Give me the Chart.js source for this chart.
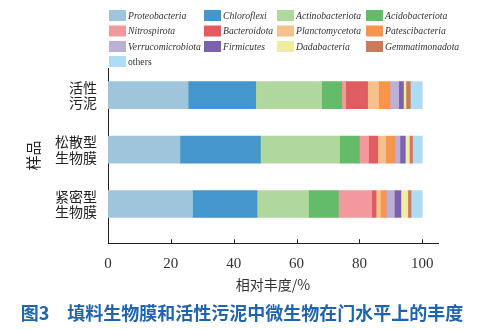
<!DOCTYPE html>
<html>
<head>
<meta charset="utf-8">
<script src="https://cdn.jsdelivr.net/npm/chart.js@4.4.0/dist/chart.umd.min.js"></script>
<style>
  html, body { margin: 0; padding: 0; background: #fff; }
</style>
</head>
<body>
<canvas id="abundanceChart" width="485" height="329"></canvas>
<script>
// samples (top to bottom)
const samples = [['活性', '污泥'], ['松散型', '生物膜'], ['紧密型', '生物膜']];

// phyla in stacking order
const phyla = ['Proteobacteria', 'Chloroflexi', 'Actinobacteriota', 'Acidobacteriota',
  'Nitrospirota', 'Bacteroidota', 'Planctomycetota', 'Patescibacteria',
  'Verrucomicrobiota', 'Firmicutes', 'Dadabacteria', 'Gemmatimonadota', 'others'];

const phylaColors = ['#9fc5dd', '#4596cc', '#b0d79c', '#64bb69', '#f4999b', '#e05c60',
  '#f8c08a', '#f7954f', '#bcb0d6', '#7c62ac', '#f1ed9f', '#cd7a5c', '#aedcf5'];

// relative abundance (%) per sample, same order as phyla
const activatedSludge = [25.5, 21.5, 21.0, 6.4, 1.2, 7.0, 3.5, 3.6, 2.8, 1.5, 0.8, 1.4, 3.8];
const looseBiofilm    = [22.9, 25.6, 25.2, 6.3, 2.9, 2.9, 2.5, 3.0, 1.6, 1.7, 1.3, 1.0, 3.1];
const denseBiofilm    = [26.9, 20.5, 16.4, 9.5, 10.6, 1.4, 1.4, 1.8, 2.6, 2.1, 2.2, 1.0, 3.6];

const xTicks = [0, 20, 40, 60, 80, 100];

const caption = '图3　填料生物膜和活性污泥中微生物在门水平上的丰度';

const sampleValues = [activatedSludge, looseBiofilm, denseBiofilm];

const datasets = phyla.map((name, i) => ({
  label: name,
  data: sampleValues.map((vals, s) => ({ x: vals[i], y: s })),
  backgroundColor: phylaColors[i],
  borderWidth: 0,
  barThickness: 27
}));

// legend laid out as a 4-column grid, plus the figure caption
const gridLegend = {
  id: 'gridLegend',
  afterDraw(chart) {
    const c = chart.ctx;
    const colX = [109, 204, 277, 366];
    const rowY = [15.5, 31, 46.5, 61.5];
    c.save();
    chart.data.datasets.forEach((ds, i) => {
      const x = colX[i % 4];
      const y = rowY[Math.floor(i / 4)];
      c.fillStyle = ds.backgroundColor;
      c.fillRect(x, y - 5.5, 17, 11);
      c.save();
      c.translate(x + 19, y + 0.5);
      c.scale(0.88, 1);
      c.fillStyle = '#333';
      c.font = (ds.label === 'others' ? '' : 'italic ') + '11px "Liberation Serif"';
      c.textBaseline = 'middle';
      c.fillText(ds.label, 0, 0);
      c.restore();
    });
    c.fillStyle = '#1f64ad';
    c.font = 'bold 18px "Noto Sans CJK SC"';
    c.textAlign = 'center';
    c.textBaseline = 'middle';
    c.fillText(caption, 242, 313);
    c.restore();
  }
};

// small inward tick marks on the x axis
const innerTicks = {
  id: 'innerTicks',
  afterDraw(chart) {
    const c = chart.ctx;
    const xs = chart.scales.x;
    const bottom = chart.chartArea.bottom;
    c.save();
    c.strokeStyle = '#222';
    c.lineWidth = 1;
    xTicks.slice(1).forEach(v => {
      const px = Math.round(xs.getPixelForValue(v)) + 0.5;
      c.beginPath();
      c.moveTo(px, bottom);
      c.lineTo(px, bottom - 4);
      c.stroke();
    });
    c.restore();
  }
};

new Chart(document.getElementById('abundanceChart').getContext('2d'), {
  type: 'bar',
  data: { datasets },
  options: {
    responsive: false,
    animation: false,
    indexAxis: 'y',
    layout: { padding: { top: 68, right: 47, left: 0, bottom: 30 } },
    scales: {
      x: {
        type: 'linear',
        stacked: true,
        min: 0,
        max: 105,
        afterBuildTicks: axis => { axis.ticks = xTicks.map(v => ({ value: v })); },
        afterFit: axis => { axis.paddingLeft = 0; axis.paddingRight = 0; },
        grid: { display: false },
        border: { display: true, color: '#222', width: 1 },
        ticks: {
          color: '#333',
          padding: 5,
          font: { family: '"Liberation Serif"', size: 15, lineHeight: 1.0 }
        },
        title: {
          display: true,
          text: '相对丰度/%',
          color: '#333',
          padding: { top: 0, bottom: 6 },
          font: { family: '"Noto Sans CJK SC"', size: 14 }
        }
      },
      y: {
        type: 'linear',
        stacked: true,
        reverse: true,
        offset: false,
        min: -0.5,
        max: 2.72,
        afterBuildTicks: axis => { axis.ticks = samples.map((s, i) => ({ value: i })); },
        afterFit: axis => { axis.width = 108; axis.paddingTop = 0; axis.paddingBottom = 0; },
        grid: { display: false },
        border: { display: true, color: '#222', width: 1 },
        ticks: {
          color: '#222',
          padding: 3,
          callback: v => samples[v],
          font: { family: '"Noto Sans CJK SC"', size: 14, lineHeight: 1.1 }
        },
        title: {
          display: true,
          text: '样品',
          color: '#222',
          padding: { top: 24, bottom: 0 },
          font: { family: '"Noto Sans CJK SC"', size: 15 }
        }
      }
    },
    plugins: {
      legend: { display: false },
      tooltip: { enabled: false }
    }
  },
  plugins: [gridLegend, innerTicks]
});
</script>
</body>
</html>
